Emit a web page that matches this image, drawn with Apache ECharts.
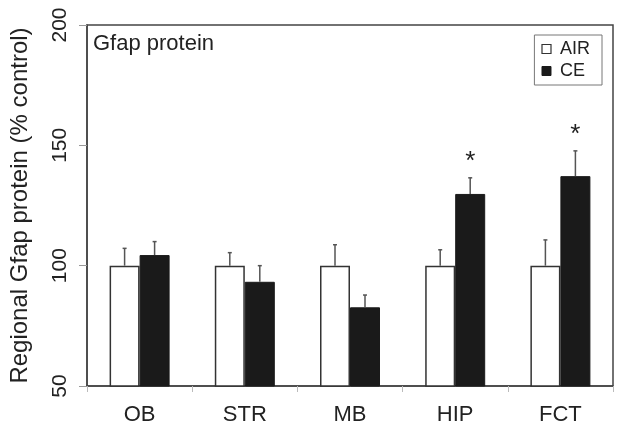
<!DOCTYPE html>
<html>
<head>
<meta charset="utf-8">
<script src="https://cdn.jsdelivr.net/npm/echarts@6/dist/echarts.min.js"></script>
<style>html,body{margin:0;padding:0;background:#fff}#c{width:624px;height:431px}</style>
</head>
<body>
<div id="c"></div>
<script>
const categories = ['OB', 'STR', 'MB', 'HIP', 'FCT'];
const airValues = [100, 100, 100, 100, 100];
const airErrors = [7.2, 5.4, 8.7, 6.6, 10.7];
const ceValues = [104.4, 93.3, 82.7, 129.8, 137.2];
const ceErrors = [5.6, 6.7, 5.1, 6.7, 10.5];
const ceSignificance = ['', '', '', '*', '*'];
const yTicks = [50, 100, 150, 200];

const FONT = '"Liberation Sans", Arial, sans-serif';
const NARROW = '"Liberation Sans Narrow", "Arial Narrow", "Liberation Sans", sans-serif';
const BAR_W = 30;
const INK = '#222';

function errorSeries(name, values, errors, offsetSign, marks) {
  return {
    type: 'custom',
    name: name + ' err',
    z: 5,
    silent: true,
    data: values.map((v, i) => [i, v, errors[i]]),
    renderItem: function (params, api) {
      const idx = api.value(0);
      const v = api.value(1);
      const e = api.value(2);
      const mark = marks ? marks[idx] : '';
      const base = api.coord([idx, v]);
      const top = api.coord([idx, v + e]);
      const x = base[0] + offsetSign * BAR_W / 2;
      const children = [
        { type: 'line', shape: { x1: x, y1: base[1], x2: x, y2: top[1] },
          style: { stroke: '#555', lineWidth: 1.5 } },
        { type: 'line', shape: { x1: x - 2, y1: top[1], x2: x + 2, y2: top[1] },
          style: { stroke: '#555', lineWidth: 1.5 } }
      ];
      if (mark) {
        children.push({ type: 'text', x: x, y: top[1] - 3,
          style: { text: mark, fill: INK, font: '26px ' + FONT, align: 'center', verticalAlign: 'bottom' } });
      }
      return { type: 'group', children: children };
    }
  };
}

const chart = echarts.init(document.getElementById('c'), null, { renderer: 'canvas' });
chart.setOption({
  animation: false,
  backgroundColor: '#fff',
  textStyle: { fontFamily: FONT },
  title: {
    text: 'Gfap protein', left: 88, top: 28,
    textStyle: { fontFamily: FONT, fontSize: 22, fontWeight: 'normal', color: INK }
  },
  legend: {
    orient: 'vertical', right: 22, top: 35,
    padding: [5, 12, 5, 7], itemGap: 4, itemWidth: 9, itemHeight: 9,
    borderColor: '#777', borderWidth: 1,
    textStyle: { fontFamily: FONT, fontSize: 18, color: INK, padding: [0, 0, 0, 4] },
    data: [
      { name: 'AIR', icon: 'rect', itemStyle: { color: '#fff', borderColor: '#333', borderWidth: 1.2 } },
      { name: 'CE', icon: 'rect', itemStyle: { color: '#1a1a1a', borderColor: '#1a1a1a', borderWidth: 1 } }
    ]
  },
  grid: {
    left: 87, right: 11, top: 25, bottom: 45,
    containLabel: false, outerBoundsMode: 'none',
    show: true, borderColor: '#444', borderWidth: 1.5
  },
  xAxis: {
    type: 'category', data: categories,
    axisLine: { lineStyle: { color: '#444', width: 1.5 } },
    axisTick: { show: true, length: 6, lineStyle: { color: '#bbb' } },
    axisLabel: { fontFamily: FONT, fontSize: 22, color: INK, margin: 18 }
  },
  yAxis: {
    type: 'value', min: yTicks[0], max: yTicks[yTicks.length - 1], interval: 50,
    name: 'Regional Gfap protein (% control)', nameLocation: 'middle', nameGap: 55,
    nameTextStyle: { fontFamily: FONT, fontSize: 24, color: INK },
    axisLine: { show: true, lineStyle: { color: '#444', width: 1.5 } },
    axisTick: { show: true, length: 8, lineStyle: { color: '#999' } },
    splitLine: { show: false },
    axisLabel: { fontFamily: NARROW, fontSize: 21, color: INK, rotate: 90, margin: 16 }
  },
  series: [
    { type: 'bar', name: 'AIR', data: airValues, barWidth: BAR_W, barGap: '0%',
      itemStyle: { color: '#fff', borderColor: '#333', borderWidth: 1.5 } },
    { type: 'bar', name: 'CE', data: ceValues, barWidth: BAR_W, barGap: '0%',
      itemStyle: { color: '#1a1a1a', borderColor: '#1a1a1a', borderWidth: 1 } },
    errorSeries('AIR', airValues, airErrors, -1, null),
    errorSeries('CE', ceValues, ceErrors, 1, ceSignificance)
  ]
});
</script>
</body>
</html>
